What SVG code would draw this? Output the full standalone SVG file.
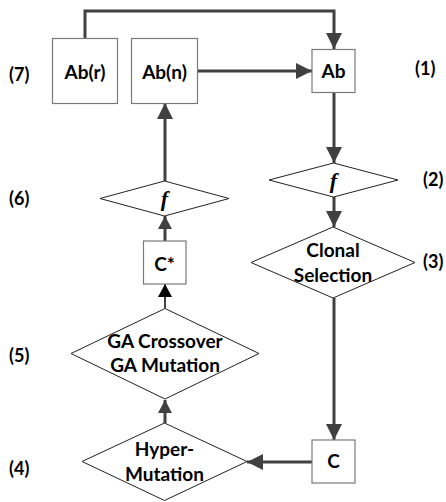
<svg xmlns="http://www.w3.org/2000/svg" width="446" height="502" viewBox="0 0 446 502">
<style>
.box{fill:#fff;stroke:#7a7a7a;stroke-width:1.2}
.dia{fill:#fff;stroke:#222;stroke-width:1}
.t{font-family:Lato,"Open Sans",sans-serif;font-weight:700;font-size:19px;fill:#000;text-anchor:middle}
.lbl{font-family:Lato,"Open Sans",sans-serif;font-weight:700;font-size:18px;fill:#000}
.f{font-family:"Liberation Serif",serif;font-style:italic;font-weight:700;font-size:22px;fill:#000;text-anchor:middle}
.c{fill:none;stroke:#404040;stroke-width:3}
.cb{fill:none;stroke:#000;stroke-width:1.5}
</style>
<defs>
<marker id="ah" markerUnits="userSpaceOnUse" markerWidth="18" markerHeight="18" refX="16" refY="8" orient="auto">
<path d="M0,0 L16,8 L0,16 Z" fill="#404040"/>
</marker>
<marker id="ahs" markerUnits="userSpaceOnUse" markerWidth="16" markerHeight="16" refX="13" refY="7" orient="auto">
<path d="M0,0 L13,7 L0,14 Z" fill="#404040"/>
</marker>
<marker id="ahb" markerUnits="userSpaceOnUse" markerWidth="16" markerHeight="16" refX="13" refY="7" orient="auto">
<path d="M0,0 L13,7 L0,14 Z" fill="#000"/>
</marker>
</defs>
<g id="connectors">
<polyline class="c" points="85,38 85,11 334,11 334,49" marker-end="url(#ah)"/>
<line class="c" x1="197" y1="71" x2="312" y2="71" marker-end="url(#ah)"/>
<line class="c" x1="334" y1="92" x2="334" y2="163" marker-end="url(#ah)"/>
<line class="c" x1="334" y1="197" x2="334" y2="227" marker-end="url(#ah)"/>
<line class="c" x1="334" y1="298" x2="334" y2="440" marker-end="url(#ah)"/>
<line class="c" x1="312" y1="462" x2="247" y2="462" marker-end="url(#ah)"/>
<line class="c" x1="165" y1="423" x2="165" y2="400" marker-end="url(#ahs)"/>
<line class="cb" x1="165" y1="308" x2="165" y2="284" marker-end="url(#ahb)"/>
<line class="c" x1="165" y1="241" x2="165" y2="216" marker-end="url(#ahs)"/>
<line class="c" x1="165" y1="181" x2="165" y2="103" marker-end="url(#ah)"/>
</g>
<g id="node-abr">
<rect class="box" x="52.5" y="38.5" width="65" height="65"/>
<text class="t" x="85" y="79">Ab(r)</text>
</g>
<g id="node-abn">
<rect class="box" x="131.5" y="38.5" width="66" height="65"/>
<text class="t" x="164.5" y="79">Ab(n)</text>
</g>
<g id="node-ab">
<rect class="box" x="312" y="49.5" width="43" height="43"/>
<text class="t" x="333.5" y="77.5">Ab</text>
</g>
<g id="node-f-right">
<polygon class="dia" points="333.5,163 398,180 333.5,197 269,180"/>
<text class="f" x="333.5" y="188">f</text>
</g>
<g id="node-clonal">
<polygon class="dia" points="333,227 415,262.5 333,298 251,262.5"/>
<text class="t" x="333" y="257">Clonal</text>
<text class="t" x="333" y="282">Selection</text>
</g>
<g id="node-c">
<rect class="box" x="312" y="440" width="43" height="43"/>
<text class="t" x="333.5" y="468">C</text>
</g>
<g id="node-hyper">
<polygon class="dia" points="164.5,423 247,461.5 164.5,500.5 82,461.5"/>
<text class="t" x="164.5" y="456">Hyper-</text>
<text class="t" x="164.5" y="480.5">Mutation</text>
</g>
<g id="node-ga">
<polygon class="dia" points="165,308.5 259,353.5 165,399 71,353.5"/>
<text class="t" x="165" y="348">GA Crossover</text>
<text class="t" x="165" y="372">GA Mutation</text>
</g>
<g id="node-cstar">
<rect class="box" x="143.5" y="241" width="42.5" height="43"/>
<text class="t" x="164.5" y="270.5">C*</text>
</g>
<g id="node-f-left">
<polygon class="dia" points="164.5,181 229,198.5 164.5,216 100,198.5"/>
<text class="f" x="164.5" y="206">f</text>
</g>
<g id="labels">
<text class="lbl" x="9" y="81">(7)</text>
<text class="lbl" x="415" y="75">(1)</text>
<text class="lbl" x="423" y="186">(2)</text>
<text class="lbl" x="423" y="268">(3)</text>
<text class="lbl" x="9" y="205">(6)</text>
<text class="lbl" x="9" y="362">(5)</text>
<text class="lbl" x="9" y="475">(4)</text>
</g>
</svg>
